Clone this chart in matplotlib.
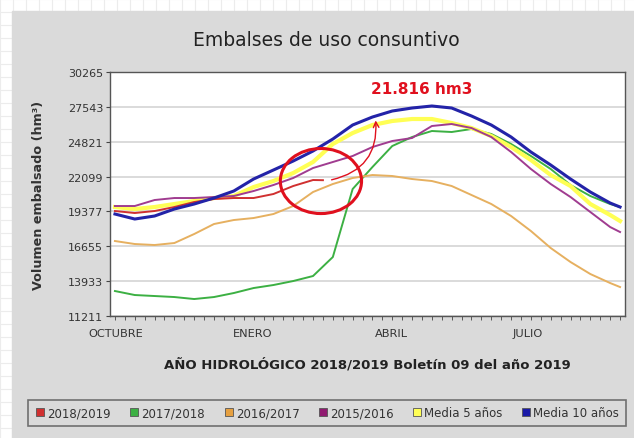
import matplotlib.pyplot as plt
from matplotlib.patches import Rectangle, Ellipse
from matplotlib.lines import Line2D

# semanas del año hidrológico (0 = inicio de octubre)
weeks = [0, 2, 4, 6, 8, 10, 12, 14, 16, 18, 20, 22, 24, 26, 28, 30, 32, 34, 36, 38, 40, 42, 44, 46, 48, 50, 51]
weeks_2018 = [0, 2, 4, 6, 8, 10, 12, 14, 16, 18, 20, 21]

s2018_19 = [19409, 19253, 19409, 19721, 20112, 20346, 20424, 20424, 20737, 21362, 21830, 21816]
s2017_18 = [13161, 12849, 12771, 12692, 12536, 12692, 13005, 13395, 13630, 13942, 14333, 15816, 21127,
            22845, 24486, 25188, 25657, 25579, 25813, 25423, 24642, 23705, 22689, 21440, 20581, 19956, 19721]
s2016_17 = [17066, 16832, 16754, 16910, 17613, 18394, 18706, 18862, 19175, 19800, 20893, 21518, 21986,
            22221, 22143, 21908, 21752, 21362, 20659, 19956, 19019, 17847, 16519, 15426, 14489, 13786, 13473]
s2015_16 = [19800, 19800, 20268, 20424, 20424, 20502, 20581, 20971, 21440, 21986, 22767, 23236, 23705,
            24407, 24876, 25110, 26048, 26204, 25891, 25188, 24017, 22689, 21518, 20502, 19331, 18159, 17769]
media5 = [19721, 19565, 19721, 19956, 20190, 20424, 20581, 21283, 21752, 22377, 23236, 24642, 25501,
          26126, 26438, 26594, 26594, 26282, 25891, 25267, 24407, 23392, 22221, 21362, 19956, 19097, 18628]
media10 = [19175, 18784, 19019, 19565, 19956, 20424, 20971, 21908, 22611, 23314, 24095, 25032, 26126,
           26750, 27219, 27453, 27610, 27453, 26829, 26126, 25188, 24017, 23002, 21908, 20893, 20034, 19721]

yticks = [11211, 13933, 16655, 19377, 22099, 24821, 27543, 30265]
months = ['OCTUBRE', 'ENERO', 'ABRIL', 'JULIO']
month_pos = [0.1, 13.9, 27.9, 41.7]

W, H = 634, 439
fig = plt.figure(figsize=(W / 100, H / 100), dpi=100)

# fondo tipo papel cuadriculado + panel gris
bg = fig.add_axes([0, 0, 1, 1], zorder=-5)
bg.set_xlim(0, W)
bg.set_ylim(H, 0)
for g in range(0, W, 13):
    bg.axvline(g, color='#ececec', lw=0.8)
for g in range(0, H, 13):
    bg.axhline(g, color='#ececec', lw=0.8)
bg.add_patch(Rectangle((12, 12), W - 12, H - 12, color='#dadada', zorder=3))
bg.axis('off')

ax = fig.add_axes([110 / W, 1 - 317 / H, 515 / W, 244 / H])
ax.set_facecolor('white')

ax.plot(weeks, s2017_18, color='#3cb043', lw=1.4)
ax.plot(weeks, s2016_17, color='#e6b060', lw=1.4)
ax.plot(weeks, media5, color='#ffff55', lw=3)
ax.plot(weeks, s2015_16, color='#a03c90', lw=1.4)
ax.plot(weeks_2018, s2018_19, color='#d03030', lw=1.4)
ax.plot(weeks, media10, color='#2323a8', lw=2.2)

ax.set_xlim(-0.5, 51.5)
ax.set_ylim(yticks[0], yticks[-1])
ax.set_yticks(yticks)
ax.set_yticklabels([str(v) for v in yticks], fontsize=8, color='#333333')
ax.yaxis.grid(True, color='#d4d4d4', lw=1.2)
ax.set_axisbelow(True)
ax.set_xticks(month_pos)
ax.set_xticklabels(months, fontsize=8.2, color='#333333')
ax.set_xticks(range(0, 52), minor=True)
ax.tick_params(axis='x', which='major', length=0, pad=9)
ax.tick_params(axis='x', which='minor', length=3, color='#444444')
ax.tick_params(axis='y', length=3, color='#444444', pad=2)
for sp in ax.spines.values():
    sp.set_color('#555555')
    sp.set_linewidth(1)

ax.set_ylabel('Volumen embalsado (hm³)', fontsize=9.2, fontweight='bold', color='#333333', labelpad=16)
ax.set_xlabel('AÑO HIDROLÓGICO 2018/2019 Boletín 09 del año 2019', fontsize=9.5,
              fontweight='bold', color='#222222', labelpad=13)
fig.text(326 / W, 1 - 40 / H, 'Embalses de uso consuntivo', ha='center', va='center',
         fontsize=13.5, color='#222222')

# anotación en rojo
ax.add_patch(Ellipse((20.8, 21750), 8.2, 5080, fill=False, edgecolor='#e0101e', lw=2.2, zorder=5))
ax.annotate('', xy=(26.3, 26700), xytext=(21.6, 21800),
            arrowprops=dict(arrowstyle='->', color='#e0101e', lw=1,
                            connectionstyle='arc3,rad=0.45'))
ax.text(31.0, 29000, '21.816 hm3', color='#e0101e', fontsize=11, fontweight='bold',
        ha='center', va='center')

names = ['2018/2019', '2017/2018', '2016/2017', '2015/2016', 'Media 5 años', 'Media 10 años']
cols = ['#d03030', '#3cb043', '#e6a040', '#901a70', '#ffff55', '#1a1aa8']
handles = [Line2D([], [], ls='', marker='s', markersize=6, markerfacecolor=c,
                  markeredgecolor='#555555', markeredgewidth=0.6) for c in cols]
leg = fig.legend(handles, names, loc='center', bbox_to_anchor=(327 / W, 1 - 414 / H), ncol=6,
                 fontsize=8.5, frameon=True, fancybox=False, handletextpad=0.15,
                 columnspacing=1.55, handlelength=0.9, borderpad=0.55, borderaxespad=0)
leg.get_frame().set_facecolor('#dadada')
leg.get_frame().set_edgecolor('#555555')
leg.get_frame().set_linewidth(1.2)
for t in leg.get_texts():
    t.set_color('#333333')

fig.savefig('out.png', dpi=100)
